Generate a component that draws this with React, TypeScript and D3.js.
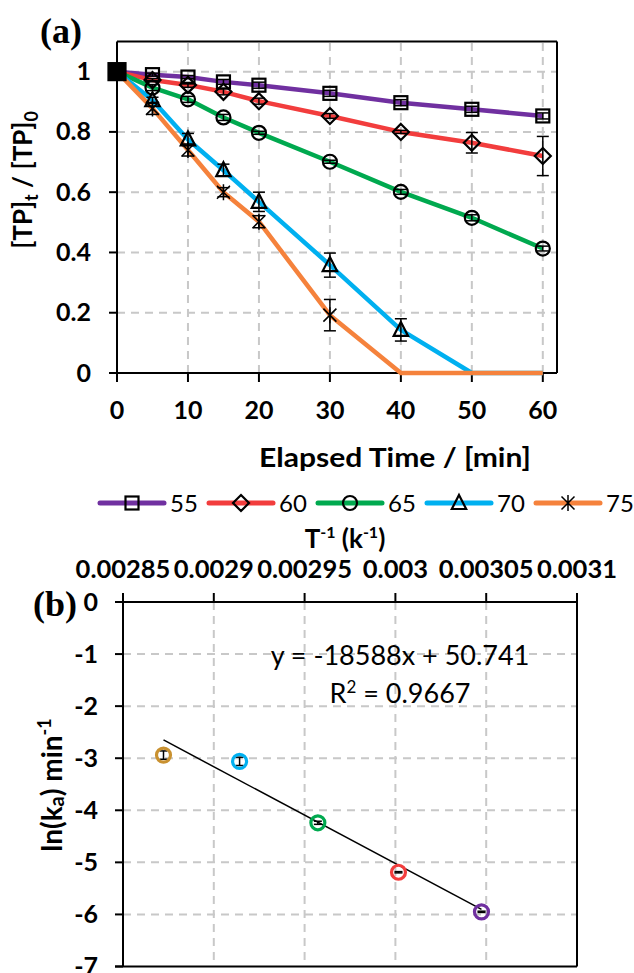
import React from "react";
import * as d3 from "d3";

// ---------- Panel (a) data ----------
const times = [0, 5, 10, 15, 20, 30, 40, 50, 60];
const seriesNames = ["55", "60", "65", "70", "75"];
const s55 = [1, 0.99, 0.982, 0.966, 0.955, 0.928, 0.897, 0.875, 0.853];
const s60 = [1, 0.972, 0.956, 0.933, 0.902, 0.853, 0.8, 0.764, 0.72];
const s65 = [1, 0.947, 0.908, 0.848, 0.797, 0.701, 0.601, 0.515, 0.413];
const s70 = [1, 0.905, 0.775, 0.673, 0.568, 0.358, 0.143, 0, 0];
const s75 = [1, 0.878, 0.74, 0.6, 0.502, 0.192, 0, 0, 0];
const e55 = [0, 0.005, 0.005, 0.008, 0.01, 0.01, 0.01, 0.01, 0.01];
const e60 = [0, 0.005, 0.008, 0.01, 0.01, 0.008, 0.005, 0.034, 0.065];
const e65 = [0, 0.01, 0.01, 0.01, 0.005, 0.005, 0.008, 0.01, 0.008];
const e70 = [0, 0.01, 0.02, 0.02, 0.032, 0.04, 0.037, 0, 0];
const e75 = [0, 0.02, 0.02, 0.015, 0.02, 0.052, 0, 0, 0];
const xTicksA = [0, 10, 20, 30, 40, 50, 60];
const yTicksA = [0, 0.2, 0.4, 0.6, 0.8, 1];
const yTickLabelsA = ["0", "0.2", "0.4", "0.6", "0.8", "1"];

// ---------- Panel (b) data ----------
const invT = [0.0030474, 0.0030017, 0.0029573, 0.0029142, 0.0028723];
const lnK = [-5.95, -5.19, -4.24, -3.06, -2.94];
const lnKErr = [0.012, 0.012, 0.03, 0.08, 0.08];
const xTicksB = [0.00285, 0.0029, 0.00295, 0.003, 0.00305, 0.0031];
const xTickLabelsB = ["0.00285", "0.0029", "0.00295", "0.003", "0.00305", "0.0031"];
const yTicksB = [0, -1, -2, -3, -4, -5, -6, -7];
const fitSlope = -18588;
const fitIntercept = 50.741;
const fitEquation = "y = -18588x + 50.741";
const fitR2 = "0.9667";

const colorsA = ["#7030A0", "#F23D3D", "#00A94F", "#00B0F0", "#F5823C"];
const colorsB = ["#7030A0", "#F23D3D", "#00A94F", "#00B0F0", "#C99130"];
const markerTypes = ["square", "diamond", "circle", "triangle", "star"];

const FONT = "Lato, 'Open Sans', sans-serif";
const SERIF = "'Liberation Serif', 'DejaVu Serif', serif";
const GRID = "#C8C8C8";

function Marker({ type, x, y, filled }: { type: string; x: number; y: number; filled?: boolean }) {
  const sw = 2.2;
  const st = { fill: filled ? "#000" : "none", stroke: "#000", strokeWidth: sw };
  if (type === "square") {
    const s = filled ? 17 : 13;
    return <rect x={x - s / 2} y={y - s / 2} width={s} height={s} {...st} />;
  }
  if (type === "diamond") {
    const s = 8;
    return <path d={`M${x},${y - s}L${x + s},${y}L${x},${y + s}L${x - s},${y}Z`} {...st} />;
  }
  if (type === "circle") return <circle cx={x} cy={y} r={7} {...st} />;
  if (type === "triangle") {
    const s = 8;
    return <path d={`M${x},${y - s}L${x + s * 0.9},${y + s * 0.75}L${x - s * 0.9},${y + s * 0.75}Z`} {...st} />;
  }
  const s = 6.5;
  return (
    <path
      d={`M${x - s},${y - s}L${x + s},${y + s}M${x - s},${y + s}L${x + s},${y - s}M${x},${y - s - 1.5}L${x},${y + s + 1.5}`}
      fill="none"
      stroke="#000"
      strokeWidth={1.5}
    />
  );
}

export default function App() {
  // panel (a) scales
  const xA = d3.scaleLinear().domain([0, 62]).range([117, 557]);
  const yA = d3.scaleLinear().domain([0, 1.1]).range([373, 41.5]);
  const seriesA = [s55, s60, s65, s70, s75];
  const errA = [e55, e60, e65, e70, e75];
  const line = d3
    .line<number>()
    .x((_, i) => xA(times[i]))
    .y((d) => yA(d));

  // panel (b) scales
  const xB = d3.scaleLinear().domain([0.00285, 0.0031]).range([123, 577]);
  const yB = d3.scaleLinear().domain([-7, 0]).range([966.5, 602]);
  const fitX0 = d3.min(invT)!;
  const fitX1 = d3.max(invT)!;

  return (
    <svg
      width={634}
      height={973}
      style={{ position: "absolute", left: 0, top: 0, background: "#fff" }}
      fontFamily={FONT}
    >
      <rect x={0} y={0} width={634} height={973} fill="#fff" />
      {/* ================= Panel (a) ================= */}
      <text x={40} y={43} fontFamily={SERIF} fontWeight="bold" fontSize={36}>
        (a)
      </text>
      {/* grid */}
      {yTicksA.filter((t) => t > 0).map((t) => (
        <line key={"gya" + t} x1={xA(0)} x2={xA(62)} y1={yA(t)} y2={yA(t)} stroke={GRID} strokeWidth={2} strokeDasharray="8,6" />
      ))}
      {xTicksA.filter((t) => t > 0).map((t) => (
        <line key={"gxa" + t} x1={xA(t)} x2={xA(t)} y1={yA(0)} y2={yA(1.1)} stroke={GRID} strokeWidth={2} strokeDasharray="8,6" />
      ))}
      {/* frame */}
      <line x1={xA(0)} x2={xA(62)} y1={yA(1.1)} y2={yA(1.1)} stroke="#000" strokeWidth={2} />
      <line x1={xA(62)} x2={xA(62)} y1={yA(1.1)} y2={yA(0)} stroke="#000" strokeWidth={2} />
      <line x1={xA(0)} x2={xA(0)} y1={yA(1.1)} y2={yA(0) + 1} stroke="#000" strokeWidth={2} />
      <line x1={xA(0) - 8} x2={xA(62)} y1={yA(0)} y2={yA(0)} stroke="#000" strokeWidth={2} />
      {yTicksA.map((t) => (
        <line key={"tya" + t} x1={xA(0) - 8} x2={xA(0)} y1={yA(t)} y2={yA(t)} stroke="#000" strokeWidth={2} />
      ))}
      {xTicksA.map((t) => (
        <line key={"txa" + t} x1={xA(t)} x2={xA(t)} y1={yA(0)} y2={yA(0) + 9} stroke="#000" strokeWidth={2} />
      ))}
      {yTicksA.map((t, i) => (
        <text key={"lya" + t} x={91} y={yA(t) + 8.5} textAnchor="end" fontWeight="bold" fontSize={25}>
          {yTickLabelsA[i]}
        </text>
      ))}
      {xTicksA.map((t) => (
        <text key={"lxa" + t} x={xA(t)} y={419} textAnchor="middle" fontWeight="bold" fontSize={25}>
          {t}
        </text>
      ))}
      <text x={395} y={467} textAnchor="middle" fontWeight="bold" fontSize={26} textLength={272} lengthAdjust="spacingAndGlyphs">
        Elapsed Time / [min]
      </text>
      <text transform="translate(32,180) rotate(-90)" textAnchor="middle" fontWeight="bold" fontSize={26}>
        [TP]
        <tspan fontSize={18} dy={6}>t</tspan>
        <tspan dy={-6}> / [TP]</tspan>
        <tspan fontSize={18} dy={6}>0</tspan>
      </text>
      {/* series lines */}
      {seriesA.map((s, k) => (
        <path key={"la" + k} d={line(s)!} fill="none" stroke={colorsA[k]} strokeWidth={4.5} strokeLinejoin="round" />
      ))}
      {/* error bars + markers */}
      {seriesA.map((s, k) => (
        <g key={"ma" + k}>
          {s.map((v, i) => {
            if (i === 0 || v <= 0) return null;
            const e = errA[k][i];
            const x = xA(times[i]);
            return (
              <g key={i}>
                <line x1={x} x2={x} y1={yA(v - e)} y2={yA(v + e)} stroke="#000" strokeWidth={1.5} />
                <line x1={x - 6} x2={x + 6} y1={yA(v - e)} y2={yA(v - e)} stroke="#000" strokeWidth={1.5} />
                <line x1={x - 6} x2={x + 6} y1={yA(v + e)} y2={yA(v + e)} stroke="#000" strokeWidth={1.5} />
                <Marker type={markerTypes[k]} x={x} y={yA(v)} />
              </g>
            );
          })}
        </g>
      ))}
      <Marker type="square" x={xA(times[0])} y={yA(s55[0])} filled />
      {/* legend */}
      {seriesNames.map((n, k) => {
        const x0 = 100 + k * 109;
        const y = 503;
        return (
          <g key={"lg" + k}>
            <line x1={x0} x2={x0 + 64} y1={y} y2={y} stroke={colorsA[k]} strokeWidth={5} strokeLinecap="round" />
            <Marker type={markerTypes[k]} x={x0 + 32} y={y} />
            <text x={x0 + 70} y={y + 9} fontSize={24}>
              {n}
            </text>
          </g>
        );
      })}

      {/* ================= Panel (b) ================= */}
      <text x={345} y={548} textAnchor="middle" fontWeight="bold" fontSize={26}>
        T<tspan fontSize={16} dy={-10}>-1</tspan>
        <tspan dy={10}> (k</tspan>
        <tspan fontSize={16} dy={-10}>-1</tspan>
        <tspan dy={10}>)</tspan>
      </text>
      {xTicksB.map((t, i) => (
        <text key={"lxb" + i} x={xB(t)} y={578} textAnchor="middle" fontWeight="bold" fontSize={25.5}>
          {xTickLabelsB[i]}
        </text>
      ))}
      <text x={33} y={616} fontFamily={SERIF} fontWeight="bold" fontSize={36}>
        (b)
      </text>
      {yTicksB.filter((t) => t < 0 && t > -7).map((t) => (
        <line key={"gyb" + t} x1={xB(0.00285)} x2={xB(0.0031)} y1={yB(t)} y2={yB(t)} stroke={GRID} strokeWidth={2} strokeDasharray="8,6" />
      ))}
      {xTicksB.slice(1, -1).map((t, i) => (
        <line key={"gxb" + i} x1={xB(t)} x2={xB(t)} y1={yB(0)} y2={yB(-7)} stroke={GRID} strokeWidth={2} strokeDasharray="8,6" />
      ))}
      <line x1={xB(0.00285) - 8} x2={xB(0.0031)} y1={yB(0)} y2={yB(0)} stroke="#000" strokeWidth={2} />
      <line x1={xB(0.00285) - 8} x2={xB(0.0031)} y1={yB(-7)} y2={yB(-7)} stroke="#000" strokeWidth={2} />
      <line x1={xB(0.00285)} x2={xB(0.00285)} y1={yB(0) - 9} y2={yB(-7)} stroke="#000" strokeWidth={2} />
      <line x1={xB(0.0031)} x2={xB(0.0031)} y1={yB(0) - 9} y2={yB(-7)} stroke="#000" strokeWidth={2} />
      {xTicksB.map((t, i) => (
        <line key={"txb" + i} x1={xB(t)} x2={xB(t)} y1={yB(0) - 9} y2={yB(0)} stroke="#000" strokeWidth={2} />
      ))}
      {yTicksB.map((t) => (
        <line key={"tyb" + t} x1={xB(0.00285) - 8} x2={xB(0.00285)} y1={yB(t)} y2={yB(t)} stroke="#000" strokeWidth={2} />
      ))}
      {yTicksB.map((t) => (
        <text key={"lyb" + t} x={98} y={yB(t) + 8.5} textAnchor="end" fontWeight="bold" fontSize={25}>
          {t}
        </text>
      ))}
      <text transform="translate(62,785) rotate(-90)" textAnchor="middle" fontWeight="bold" fontSize={28}>
        ln(k<tspan fontSize={20} dy={2}>a</tspan>
        <tspan dy={-2}>) min</tspan>
        <tspan fontSize={18} dy={-11}>-1</tspan>
      </text>
      {/* trendline */}
      <line
        x1={xB(fitX0)}
        x2={xB(fitX1)}
        y1={yB(fitSlope * fitX0 + fitIntercept)}
        y2={yB(fitSlope * fitX1 + fitIntercept)}
        stroke="#000"
        strokeWidth={1.5}
      />
      {invT.map((x, i) => {
        const cx = xB(x);
        const e = lnKErr[i];
        return (
          <g key={"pb" + i}>
            <line x1={cx} x2={cx} y1={yB(lnK[i] - e)} y2={yB(lnK[i] + e)} stroke="#000" strokeWidth={1.5} />
            <line x1={cx - 4} x2={cx + 4} y1={yB(lnK[i] - e)} y2={yB(lnK[i] - e)} stroke="#000" strokeWidth={1.5} />
            <line x1={cx - 4} x2={cx + 4} y1={yB(lnK[i] + e)} y2={yB(lnK[i] + e)} stroke="#000" strokeWidth={1.5} />
            <circle cx={cx} cy={yB(lnK[i])} r={7} fill="none" stroke={colorsB[i]} strokeWidth={3.2} />
          </g>
        );
      })}
      <text x={400} y={665} textAnchor="middle" fontSize={27}>
        {fitEquation}
      </text>
      <text x={400} y={703} textAnchor="middle" fontSize={27}>
        R<tspan fontSize={17} dy={-10}>2</tspan>
        <tspan dy={10}> = {fitR2}</tspan>
      </text>
    </svg>
  );
}
